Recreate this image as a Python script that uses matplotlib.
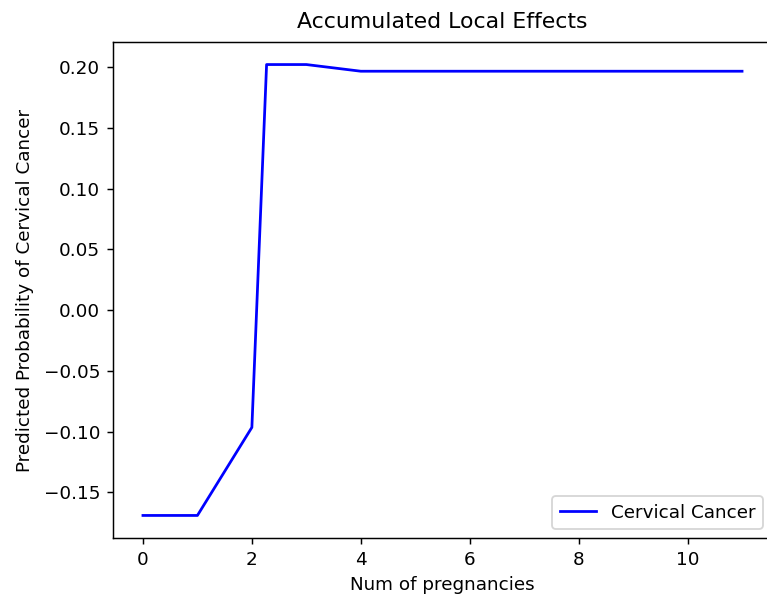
import matplotlib

matplotlib.use("Agg")
import matplotlib.pyplot as plt

# ALE curve
num_pregnancies = [0, 1, 2, 2.27, 3, 4, 5, 6, 7, 8, 9, 10, 11]
ale_values = [-0.169, -0.169, -0.0965, 0.2022, 0.2022, 0.1967, 0.1967,
              0.1967, 0.1967, 0.1967, 0.1967, 0.1967, 0.1967]

DPI = 132
fig = plt.figure(figsize=(767 / DPI, 599 / DPI), dpi=DPI)
# right edge runs past the canvas, as in the cropped reference
ax = fig.add_axes([113 / 767, 61 / 599, 659 / 767, 496 / 599])
ax.plot(num_pregnancies, ale_values, color="blue", label="Cervical Cancer")
ax.set_title("Accumulated Local Effects", pad=7.5)
ax.set_xlabel("Num of pregnancies")
ax.set_ylabel("Predicted Probability of Cervical Cancer", labelpad=5.5)
ax.legend(loc="lower right")
fig.savefig("out.png", dpi=DPI)
plt.close(fig)
